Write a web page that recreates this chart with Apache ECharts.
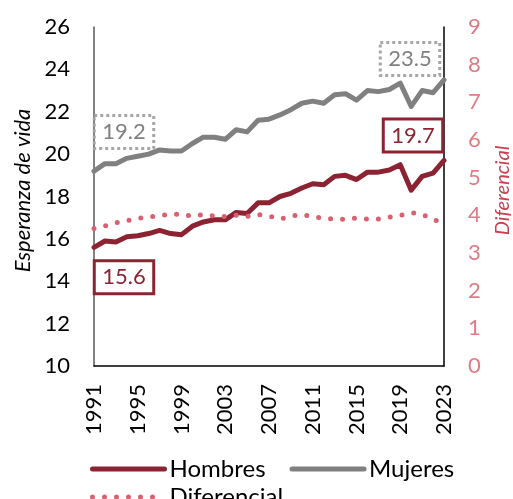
<!DOCTYPE html>
<html>
<head>
<meta charset="utf-8">
<script src="https://cdn.jsdelivr.net/npm/echarts@6/dist/echarts.min.js"></script>
<style>
  html, body { margin: 0; padding: 0; background: #fff; }
  #chart { width: 513px; height: 499px; }
</style>
</head>
<body>
<div id="chart"></div>
<script>
const years = [];
for (let y = 1991; y <= 2023; y++) years.push(String(y));

const hombres = [15.6, 15.9, 15.85, 16.1, 16.15, 16.25, 16.4, 16.25, 16.2, 16.6, 16.8, 16.9, 16.9,
  17.25, 17.2, 17.7, 17.7, 18.0, 18.15, 18.4, 18.6, 18.55, 18.95, 19.0, 18.8, 19.15, 19.15,
  19.25, 19.5, 18.3, 18.95, 19.1, 19.7];
const mujeres = [19.2, 19.55, 19.55, 19.8, 19.9, 20.0, 20.2, 20.15, 20.15, 20.5, 20.8, 20.8, 20.7,
  21.15, 21.05, 21.6, 21.65, 21.85, 22.1, 22.4, 22.5, 22.4, 22.8, 22.85, 22.55, 23.0, 22.95,
  23.05, 23.35, 22.25, 23.0, 22.9, 23.5];
const diferencial = [3.65, 3.72, 3.8, 3.86, 3.92, 3.95, 4.0, 4.02, 4.03, 3.98, 4.02, 3.98, 3.97,
  4.0, 3.97, 4.02, 3.98, 3.9, 3.98, 4.02, 3.96, 3.93, 3.9, 3.89, 3.93, 3.9, 3.9,
  3.95, 4.0, 4.07, 4.03, 3.88, 3.82];

const FONT = 'Lato';
const RED = '#8c2332';
const GRAY = '#808080';
const PINK = '#d9616f';
const last = years.length - 1;

function boxLabel(color, type, offset) {
  return {
    show: true,
    position: 'inside',
    formatter: p => p.value.toFixed(1),
    offset: offset,
    color: color,
    fontFamily: FONT,
    fontSize: 22,
    lineHeight: 24,
    padding: [5, 8, 4, 8],
    borderColor: type === 'dotted' ? '#a6a6a6' : RED,
    borderWidth: 1.5,
    borderType: type,
    backgroundColor: 'rgba(255,255,255,0)'
  };
}

const legendBase = {
  itemWidth: 72, itemHeight: 14, itemGap: 24, itemTextGap: 4,
  itemStyle: { opacity: 0, borderWidth: 0 },
  lineStyle: { width: 5, cap: 'round' },
  textStyle: { fontSize: 24, color: '#000', fontFamily: FONT }
};

const chart = echarts.init(document.getElementById('chart'));
chart.setOption({
  animation: false,
  textStyle: { fontFamily: FONT },
  grid: { left: 94, right: 69, top: 27, bottom: 133, outerBoundsMode: 'none', containLabel: false },
  xAxis: {
    type: 'category',
    data: years,
    boundaryGap: false,
    axisLine: { lineStyle: { color: '#000', width: 1.5 } },
    axisTick: { show: false },
    axisLabel: {
      interval: 3, rotate: 90, margin: 18,
      color: '#000', fontSize: 22, fontFamily: FONT
    }
  },
  yAxis: [{
    type: 'value', min: 10, max: 26, interval: 2,
    name: 'Esperanza de vida', nameLocation: 'middle', nameGap: 60, nameRotate: 90,
    nameTextStyle: { fontStyle: 'italic', fontSize: 22, color: '#000', fontFamily: FONT, padding: [0, 0, 0, 12] },
    axisLine: { show: true, lineStyle: { color: '#595959', width: 1.5 } },
    axisTick: { show: false },
    splitLine: { show: false },
    axisLabel: { margin: 24, color: '#000', fontSize: 22, fontFamily: FONT }
  }, {
    type: 'value', min: 0, max: 9, interval: 1, position: 'right',
    name: 'Diferencial', nameLocation: 'middle', nameGap: 49, nameRotate: 90,
    nameTextStyle: { fontStyle: 'italic', fontSize: 20, color: '#c8404f', fontFamily: FONT, padding: [0, 0, 0, 12] },
    axisLine: { show: true, lineStyle: { color: '#000', width: 1.5 } },
    axisTick: { show: false },
    splitLine: { show: false },
    axisLabel: { margin: 24, color: '#e07b86', fontSize: 22, fontFamily: FONT }
  }],
  legend: [
    Object.assign({ data: ['Hombres', 'Mujeres'], left: 85, top: 452 }, legendBase),
    Object.assign({ data: ['Diferencial'], left: 85, top: 480 }, legendBase)
  ],
  series: [{
    name: 'Hombres', type: 'line', data: hombres, yAxisIndex: 0,
    symbol: 'none', color: RED,
    lineStyle: { width: 5, color: RED, cap: 'round', join: 'round' },
    markPoint: {
      symbol: 'circle', symbolSize: 0,
      data: [
        { coord: [years[0], hombres[0]], value: hombres[0], label: boxLabel(RED, 'solid', [30, 30]) },
        { coord: [years[last], hombres[last]], value: hombres[last], label: boxLabel(RED, 'solid', [-31, -25]) }
      ]
    }
  }, {
    name: 'Mujeres', type: 'line', data: mujeres, yAxisIndex: 0,
    symbol: 'none', color: GRAY,
    lineStyle: { width: 5, color: GRAY, cap: 'round', join: 'round' },
    markPoint: {
      symbol: 'circle', symbolSize: 0,
      data: [
        { coord: [years[0], mujeres[0]], value: mujeres[0], label: boxLabel(GRAY, 'dotted', [30, -39]) },
        { coord: [years[last], mujeres[last]], value: mujeres[last], label: boxLabel(GRAY, 'dotted', [-34, -21]) }
      ]
    }
  }, {
    name: 'Diferencial', type: 'line', data: diferencial, yAxisIndex: 1,
    symbol: 'none', color: PINK,
    lineStyle: { width: 5, color: PINK, type: [0, 12], cap: 'round' }
  }]
});
</script>
</body>
</html>
